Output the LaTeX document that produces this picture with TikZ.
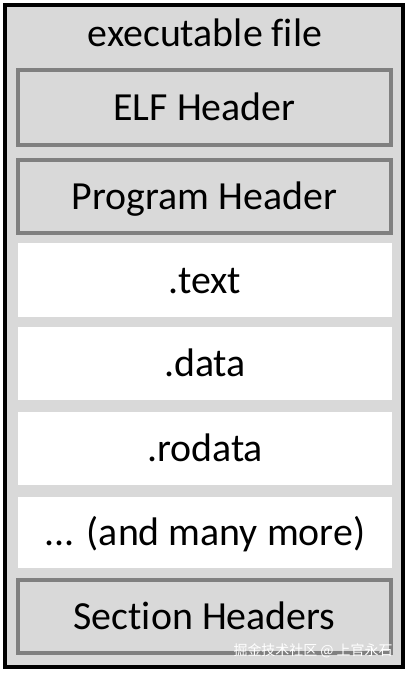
\documentclass[tikz,border=0pt]{standalone}
\usepackage{fontspec}
\setmainfont[Ligatures=NoCommon]{Carlito}
\newfontfamily\cjkwm{Noto Sans CJK SC}
\definecolor{bgc}{HTML}{D9D9D9}
\definecolor{edgec}{HTML}{808080}
\begin{document}
\begin{tikzpicture}[x=1bp,y=-1bp,
  lbl/.style={font=\fontsize{40}{44}\selectfont, text=black, text height=26bp, text depth=0pt},
  hdrbox/.style={draw=edgec, line width=4bp, fill=bgc, minimum width=373bp, inner sep=0pt, lbl},
  secbox/.style={fill=white, minimum width=374bp, inner sep=0pt, lbl}]
\useasboundingbox (0,0) rectangle (409,673);
\fill[white] (0,0) rectangle (409,673);
\node[draw=black, line width=4bp, fill=bgc, minimum width=397bp, minimum height=662bp, inner sep=0pt] (file) at (204,336) {};
\node[font=\fontsize{40}{44}\selectfont, anchor=base, inner sep=0pt] (title) at (205,47) {executable file};
\node[hdrbox, minimum height=74bp] (elf) at (204.5,107.5) {ELF Header};
\node[hdrbox, minimum height=73bp] (ph) at (204.5,196.5) {Program Header};
\node[secbox, minimum height=74bp] (text) at (205,280) {.text};
\node[secbox, minimum height=73bp] (data) at (205,363.5) {.data};
\node[secbox, minimum height=73bp] (rodata) at (205,448.5) {.rodata};
\node[secbox, minimum height=71bp] (more) at (205,532.5) {.{}.{}. (and many more)};
\node[hdrbox, minimum height=73bp] (sh) at (204.5,616) {Section Headers};
\node[font=\cjkwm\fontsize{14}{15}\selectfont, text=white, anchor=east] (wm) at (396,651) {掘金技术社区 @ 上官永石};
\end{tikzpicture}
\end{document}
